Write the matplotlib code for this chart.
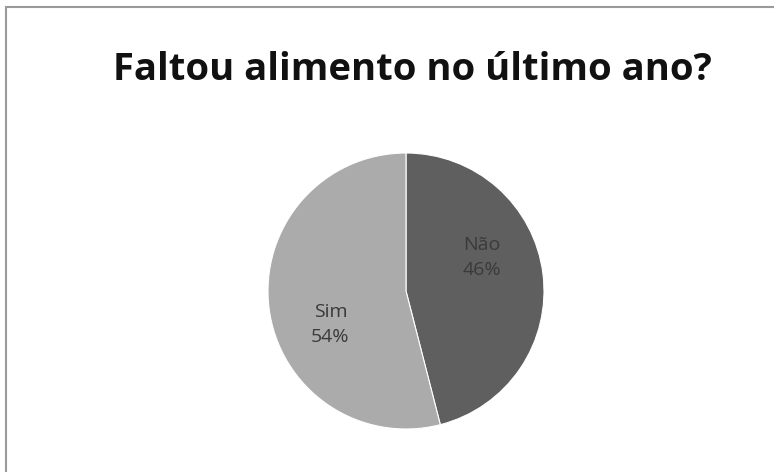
import matplotlib.pyplot as plt
import numpy as np
from matplotlib.patches import Rectangle

title = "Faltou alimento no último ano?"
categories = ["Não", "Sim"]
values = [46, 54]
colors = ["#5f5f5f", "#ababab"]

W, H = 774, 472
fig = plt.figure(figsize=(W / 100, H / 100), dpi=100)

# light gray frame like the spreadsheet chart area
fig.patches.append(Rectangle((6 / W, -0.1), 1.2, 1 - 7 / H + 0.1, transform=fig.transFigure,
                             fill=False, edgecolor="#9a9a9a", linewidth=1.5))

fig.text(412 / W, 1 - 70 / H, title, ha="center", va="center",
         fontsize=27.5, fontweight="bold", family=["Open Sans", "DejaVu Sans"], color="#111111")

r_px = 138
cx, cy = 406, 291
ax = fig.add_axes([(cx - r_px) / W, (H - cy - r_px) / H, 2 * r_px / W, 2 * r_px / H])
wedges, _ = ax.pie(values, colors=colors, startangle=90, counterclock=False,
                   wedgeprops=dict(edgecolor="white", linewidth=0.8))
ax.set_xlim(-1, 1)
ax.set_ylim(-1, 1)
ax.set_aspect("equal")
ax.axis("off")

for w, cat, v in zip(wedges, categories, values):
    ang = np.deg2rad((w.theta1 + w.theta2) / 2 + 17)
    x, y = 0.6 * np.cos(ang), 0.6 * np.sin(ang)
    ax.text(x, y, f"{cat}\n{v}%", ha="center", va="center", fontsize=14,
            family=["Open Sans", "DejaVu Sans"], color="#3a3a3a", linespacing=1.5)

fig.savefig("out.png", dpi=100)
